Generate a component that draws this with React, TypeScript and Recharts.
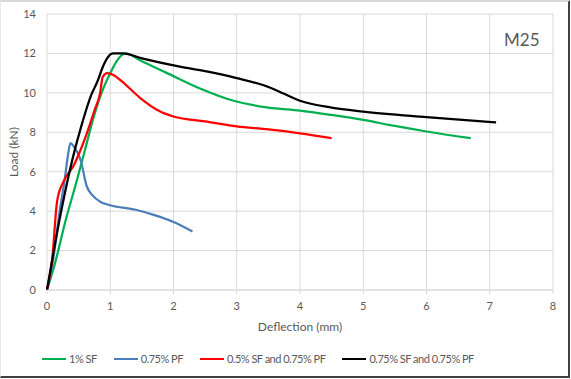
import React from "react";
import { LineChart, Line, XAxis, YAxis, CartesianGrid } from "recharts";

// 1% SF
const sfX = [0, 0.13, 0.3, 0.45, 0.6, 0.75, 0.9, 1.0, 1.1, 1.24, 1.5, 1.9, 2.4, 2.95, 3.5, 4.0, 4.5, 5.0, 5.5, 6.0, 6.7];
const sfY = [0, 1.4, 3.6, 5.3, 7.1, 8.9, 10.3, 11.0, 11.6, 12.0, 11.6, 11.0, 10.25, 9.6, 9.25, 9.1, 8.88, 8.63, 8.32, 8.04, 7.7];

// 0.75% PF
const pfX = [0, 0.1, 0.2, 0.28, 0.33, 0.37, 0.42, 0.53, 0.63, 0.72, 0.84, 1.0, 1.4, 1.7, 2.0, 2.3];
const pfY = [0, 1.6, 4.0, 5.6, 6.8, 7.45, 7.3, 6.6, 5.25, 4.8, 4.48, 4.3, 4.07, 3.8, 3.45, 2.97];

// 0.5% SF and 0.75% PF
const hy1X = [0, 0.08, 0.16, 0.26, 0.42, 0.53, 0.63, 0.75, 0.84, 0.88, 0.95, 1.05, 1.16, 1.47, 1.79, 2.0, 2.5, 3.0, 3.5, 4.0, 4.5];
const hy1Y = [0, 1.5, 4.5, 5.5, 6.3, 7.1, 7.95, 9.1, 10.0, 10.8, 11.0, 10.9, 10.65, 9.75, 9.05, 8.8, 8.55, 8.3, 8.15, 7.95, 7.7];

// 0.75% SF and 0.75% PF
const hy2X = [0, 0.2, 0.4, 0.55, 0.7, 0.8, 0.88, 0.95, 1.05, 1.2, 1.5, 2.1, 2.5, 3.0, 3.5, 3.75, 4.0, 4.5, 5.0, 6.0, 7.1];
const hy2Y = [0, 3.6, 6.6, 8.4, 9.9, 10.6, 11.3, 11.75, 12.0, 12.0, 11.75, 11.33, 11.1, 10.75, 10.3, 9.95, 9.6, 9.25, 9.05, 8.77, 8.5];

const xTicks = [0, 1, 2, 3, 4, 5, 6, 7, 8];
const yTicks = [0, 2, 4, 6, 8, 10, 12, 14];

const toPoints = (xs: number[], ys: number[]) => xs.map((x, i) => ({ x, y: ys[i] }));

const series = [
  { name: "1% SF", color: "#00b050", data: toPoints(sfX, sfY) },
  { name: "0.75% PF", color: "#4a7ebb", data: toPoints(pfX, pfY) },
  { name: "0.5% SF and 0.75% PF", color: "#ff0000", data: toPoints(hy1X, hy1Y) },
  { name: "0.75% SF and 0.75% PF", color: "#000000", data: toPoints(hy2X, hy2Y) },
];

const FONT = "Lato, 'Open Sans', sans-serif";
const GREY = "#595959";

export default function App() {
  return (
    <div
      style={{
        position: "absolute",
        left: 0,
        top: 0,
        width: 571,
        height: 379,
        background: "#fff",
        fontFamily: FONT,
      }}
    >
      <LineChart
        width={571}
        height={379}
        margin={{ top: 14, right: 18, bottom: 59, left: 0 }}
      >
        <CartesianGrid stroke="#d9d9d9" strokeWidth={1} />
        <XAxis
          type="number"
          dataKey="x"
          domain={[0, 8]}
          ticks={xTicks}
          allowDuplicatedCategory={false}
          height={30}
          stroke="#d9d9d9"
          tickSize={4}
          tickMargin={8}
          tick={{ fill: GREY, fontSize: 11, fontFamily: FONT }}
          label={{
            value: "Deflection (mm)",
            position: "insideBottom",
            offset: -11,
            fill: GREY,
            fontSize: 12,
            fontFamily: FONT,
          }}
        />
        <YAxis
          type="number"
          dataKey="y"
          domain={[0, 14]}
          ticks={yTicks}
          width={47}
          axisLine={false}
          tickLine={false}
          tickMargin={5}
          tick={{ fill: GREY, fontSize: 11, fontFamily: FONT }}
          label={{
            value: "Load (kN)",
            angle: -90,
            position: "insideLeft",
            offset: 14,
            fill: GREY,
            fontSize: 12,
            fontFamily: FONT,
            style: { textAnchor: "middle" },
          }}
        />
        {series.map((s) => (
          <Line
            key={s.name}
            data={s.data}
            dataKey="y"
            name={s.name}
            type="monotone"
            stroke={s.color}
            strokeWidth={2.25}
            dot={false}
            isAnimationActive={false}
          />
        ))}
      </LineChart>

      <div
        style={{
          position: "absolute",
          left: 504,
          top: 30,
          fontSize: 17,
          color: GREY,
          lineHeight: "20px",
        }}
      >
        M25
      </div>

      <div
        style={{
          position: "absolute",
          left: 42,
          top: 352,
          display: "flex",
          alignItems: "center",
          gap: 17,
          fontSize: 11,
          letterSpacing: "-0.5px",
          color: GREY,
          lineHeight: "14px",
          whiteSpace: "nowrap",
        }}
      >
        {series.map((s) => (
          <div key={s.name} style={{ display: "flex", alignItems: "center" }}>
            <div style={{ width: 24, height: 2, background: s.color, marginRight: 3 }} />
            <span>{s.name}</span>
          </div>
        ))}
      </div>

      <div
        style={{
          position: "absolute",
          left: 0,
          top: 0,
          width: 570,
          height: 378,
          boxSizing: "border-box",
          borderTop: "2px solid #d9d9d9",
          borderLeft: "1px solid #e6e6e6",
          borderRight: "2px solid #404040",
          borderBottom: "2px solid #404040",
          pointerEvents: "none",
        }}
      />
    </div>
  );
}
